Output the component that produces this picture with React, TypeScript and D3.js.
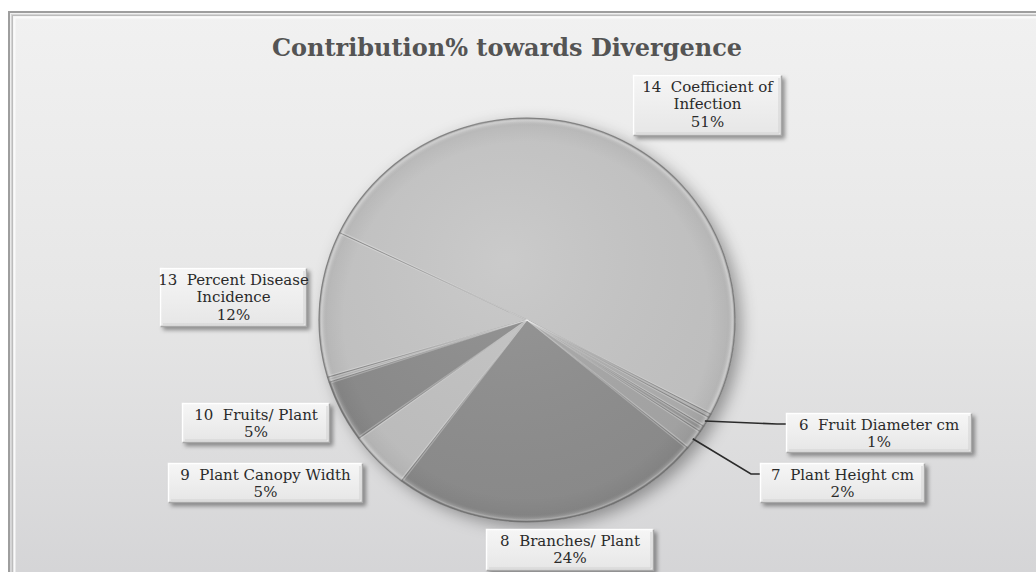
import React, { useEffect } from "react";
import * as d3 from "d3";

// ---- data ----
const categories = [
  "1-5 (unlabelled)",
  "6 Fruit Diameter cm",
  "unlabelled a",
  "7 Plant Height cm",
  "8 Branches/ Plant",
  "9 Plant Canopy Width",
  "10 Fruits/ Plant",
  "11-12 (unlabelled)",
  "13 Percent Disease Incidence",
  "14 Coefficient of Infection",
];
const values = [0.3, 0.8, 0.5, 1.6, 24.4, 4.7, 5.0, 0.4, 11.7, 50.6];
const labelLines: (string[] | null)[] = [
  null,
  ["6  Fruit Diameter cm"],
  null,
  ["7  Plant Height cm"],
  ["8  Branches/ Plant"],
  ["9  Plant Canopy Width"],
  ["10  Fruits/ Plant"],
  null,
  ["13  Percent Disease", "Incidence"],
  ["14  Coefficient of", "Infection"],
];
const sliceShades = ["#a4a4a4", "#b0b0b0", "#9c9c9c", "#a8a8a8", "#8f8f8f", "#c3c3c3", "#8d8d8d", "#b4b4b4", "#c6c6c6", "#c6c6c6"];
const title = "Contribution% towards Divergence";

// ---- layout ----
const W = 1036;
const H = 572;
const cx = 527;
const cy = 320;
const R = 202;
const xStretch = 1.03;
const startDeg = 117.8;
// label boxes: [left, top, width, height], indexed like categories
const boxes: Record<number, [number, number, number, number]> = {
  1: [786, 413, 186, 40],
  3: [760, 463, 165, 40],
  4: [486, 529, 168, 42],
  5: [168, 463, 195, 40],
  6: [182, 403, 148, 40],
  8: [160, 268, 147, 59],
  9: [633, 75, 149, 61],
};
const leaders = new Set([1, 3]);

export default function App() {
  useEffect(() => {
    document.body.style.margin = "0";
  }, []);

  const total = d3.sum(values);
  const fmt = d3.format(".0%");
  const pie = d3
    .pie<number>()
    .sort(null)
    .value((d) => d)
    .startAngle((startDeg * Math.PI) / 180)
    .endAngle((startDeg * Math.PI) / 180 + 2 * Math.PI);
  const arcs = pie(values);
  const arc = d3.arc<d3.PieArcDatum<number>>().innerRadius(0).outerRadius(R);
  const innerArc = d3.arc<d3.PieArcDatum<number>>().innerRadius(0).outerRadius(R - 2);
  const rimArc = d3.arc<d3.PieArcDatum<number>>().innerRadius(R - 2).outerRadius(R - 2);

  const lineH = 17.5;

  return (
    <svg width={W} height={H} style={{ display: "block" }} fontFamily="'DejaVu Serif', serif">
      <defs>
        <linearGradient id="bg" x1="0" y1="0" x2="0" y2="1">
          <stop offset="0" stopColor="#f1f1f1" />
          <stop offset="0.5" stopColor="#e6e6e6" />
          <stop offset="1" stopColor="#d3d3d5" />
        </linearGradient>
        <linearGradient id="boxFill" x1="0" y1="0" x2="0" y2="1">
          <stop offset="0" stopColor="#f6f6f6" />
          <stop offset="1" stopColor="#e6e6e6" />
        </linearGradient>
        <radialGradient id="rim" cx="0.5" cy="0.5" r="0.5">
          <stop offset="0.88" stopColor="#000" stopOpacity="0" />
          <stop offset="0.96" stopColor="#000" stopOpacity="0.04" />
          <stop offset="0.985" stopColor="#fff" stopOpacity="0.15" />
          <stop offset="1" stopColor="#000" stopOpacity="0.2" />
        </radialGradient>
        <radialGradient id="sheen" cx="0.45" cy="0.35" r="0.7">
          <stop offset="0" stopColor="#fff" stopOpacity="0.08" />
          <stop offset="1" stopColor="#000" stopOpacity="0.05" />
        </radialGradient>
        <filter id="pieShadow" x="-20%" y="-20%" width="140%" height="140%">
          <feDropShadow dx="6" dy="5" stdDeviation="8" floodColor="#000" floodOpacity="0.35" />
        </filter>
        <filter id="boxShadow" x="-20%" y="-30%" width="140%" height="170%">
          <feDropShadow dx="3" dy="3" stdDeviation="2.2" floodColor="#000" floodOpacity="0.4" />
        </filter>
      </defs>

      {/* background & frame */}
      <rect x={0} y={0} width={W} height={H} fill="#ffffff" />
      <rect x={8} y={11} width={W + 20} height={H + 20} fill="url(#bg)" />
      <rect x={9} y={12} width={W + 20} height={H + 20} fill="none" stroke="#9e9e9e" strokeWidth={2} />
      <rect x={11.5} y={14.5} width={W + 20} height={H + 20} fill="none" stroke="#d4d4d4" strokeWidth={1} />
      <rect x={12.5} y={15.5} width={W + 20} height={H + 20} fill="none" stroke="#bcbcbc" strokeWidth={1} />
      <rect x={14.5} y={17.5} width={W + 20} height={H + 20} fill="none" stroke="#fafafa" strokeWidth={2} />

      {/* title */}
      <text x={507} y={56} textAnchor="middle" fontSize={24} fontWeight="bold" fill="#545454">
        {title}
      </text>

      {/* pie */}
      <g transform={`translate(${cx},${cy}) scale(${xStretch},1)`}>
        <g filter="url(#pieShadow)">
          {arcs.map((a, i) => (
            <path key={categories[i]} d={arc(a) || ""} fill={sliceShades[i]} />
          ))}
        </g>
        {arcs.map((a, i) => (
          <path
            key={"s" + categories[i]}
            d={arc(a) || ""}
            fill="none"
            stroke="#7f7f7f"
            strokeOpacity={0.55}
            strokeWidth={1}
            strokeLinejoin="round"
          />
        ))}
        {arcs.map((a, i) => (
          <path
            key={"h" + categories[i]}
            d={innerArc({ ...a, startAngle: a.startAngle + 0.006, endAngle: a.endAngle - 0.006 }) || ""}
            fill="none"
            stroke="#ffffff"
            strokeOpacity={0.3}
            strokeWidth={1.2}
          />
        ))}
        <circle r={R} fill="url(#sheen)" />
        <circle r={R} fill="url(#rim)" />
        <circle r={R} fill="none" stroke="#6e6e6e" strokeOpacity={0.5} strokeWidth={1} />
      </g>

      {/* leader lines */}
      {arcs.map((a, i) => {
        if (!leaders.has(i)) return null;
        const b = boxes[i];
        const [px, py] = rimArc.centroid(a);
        const sx = cx + px * xStretch;
        const sy = cy + py;
        const ey = b[1] + 11;
        const pts: [number, number][] = [
          [sx, sy],
          [b[0] - 9, ey],
          [b[0], ey],
        ];
        return (
          <path
            key={"l" + categories[i]}
            d={d3.line()(pts) || ""}
            fill="none"
            stroke="#2b2b2b"
            strokeWidth={1.6}
          />
        );
      })}

      {/* labels */}
      {arcs.map((a, i) => {
        const lines = labelLines[i];
        const b = boxes[i];
        if (!lines || !b) return null;
        const [x, y, w, h] = b;
        const all = [...lines, fmt(values[i] / total)];
        return (
          <g key={"b" + categories[i]}>
            <rect x={x} y={y} width={w} height={h} fill="url(#boxFill)" filter="url(#boxShadow)" />
            <path d={`M${x + 0.5},${y + h - 0.5} V${y + 0.5} H${x + w - 0.5}`} fill="none" stroke="#ffffff" strokeWidth={1.5} />
            <path d={`M${x + 0.5},${y + h - 0.5} H${x + w - 0.5} V${y + 0.5}`} fill="none" stroke="#a8a8a8" strokeWidth={1.5} />
            <path d={`M${x + 3},${y + h - 3} H${x + w - 3} V${y + 3}`} fill="none" stroke="#d2d2d2" strokeWidth={1} />
            {all.map((t, k) => (
              <text
                key={k}
                x={x + w / 2}
                y={y + 16.5 + k * lineH}
                textAnchor="middle"
                fontSize={15}
                fill="#2a2a2a"
                style={{ whiteSpace: "pre" }}
              >
                {t}
              </text>
            ))}
          </g>
        );
      })}
    </svg>
  );
}
